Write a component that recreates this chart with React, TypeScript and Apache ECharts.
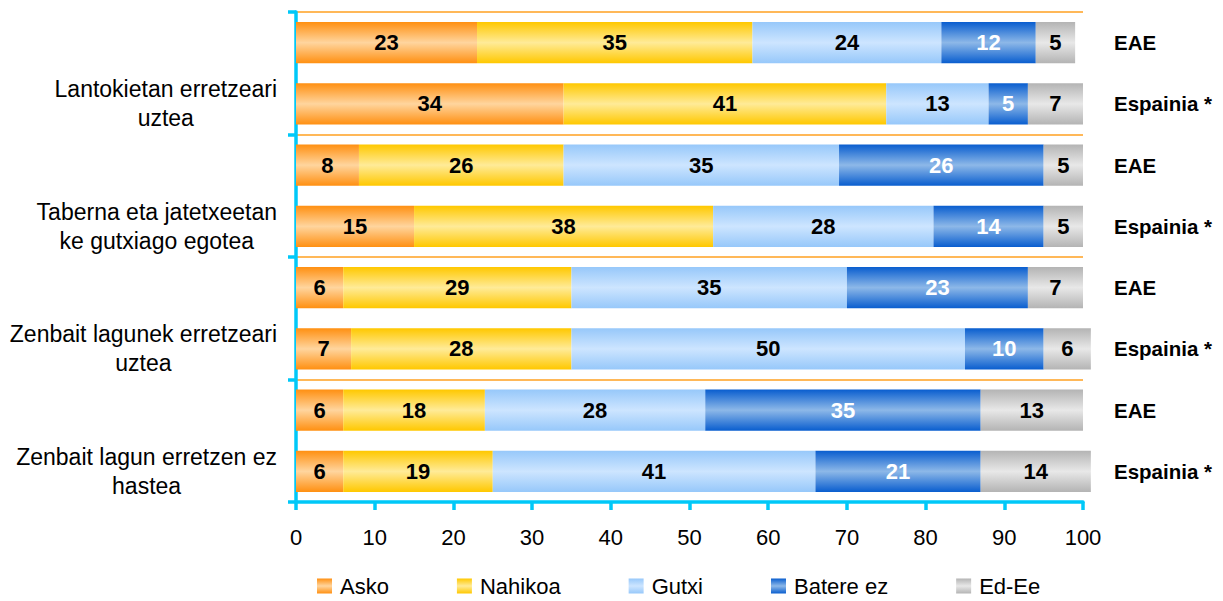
import React, { useEffect, useRef } from "react";
import * as echarts from "echarts";

const groupLabels = [
  "Lantokietan erretzeari\nuztea",
  "Taberna eta jatetxeetan\nke gutxiago egotea",
  "Zenbait lagunek erretzeari\nuztea",
  "Zenbait lagun erretzen ez\nhastea",
];
const regionLabels = ["EAE", "Espainia *"];
const xTicks = [0, 10, 20, 30, 40, 50, 60, 70, 80, 90, 100];

const seriesNames = ["Asko", "Nahikoa", "Gutxi", "Batere ez", "Ed-Ee"];
const asko = [23, 34, 8, 15, 6, 7, 6, 6];
const nahikoa = [35, 41, 26, 38, 29, 28, 18, 19];
const gutxi = [24, 13, 35, 28, 35, 50, 28, 41];
const batereEz = [12, 5, 26, 14, 23, 10, 35, 21];
const edEe = [5, 7, 5, 5, 7, 6, 13, 14];

const seriesValues = [asko, nahikoa, gutxi, batereEz, edEe];
const edgeColors = ["#FF9012", "#FFC800", "#97C8FA", "#0A5ECF", "#B4B4B4"];
const midColors = ["#FFD59E", "#FFEB98", "#CDE5FF", "#8DB8E8", "#E8E8E8"];
const labelColors = ["#000", "#000", "#000", "#fff", "#000"];

const FONT = "'Liberation Sans', Arial, sans-serif";
const CYAN = "#00C8F8";

export default function App() {
  const ref = useRef<HTMLDivElement>(null);
  useEffect(() => {
    if (!ref.current) return;
    const chart = echarts.init(ref.current, undefined, { renderer: "svg" });

    const leftData: string[] = [];
    const rightData: string[] = [];
    groupLabels.forEach((g) => {
      leftData.push("");
      leftData.push(g);
      rightData.push(regionLabels[0]);
      rightData.push(regionLabels[1]);
    });

    const series = seriesNames.map((name, i) => ({
      name,
      type: "bar",
      stack: "total",
      yAxisIndex: 0,
      barCategoryGap: "33%",
      clip: false,
      data: seriesValues[i],
      itemStyle: {
        color: new echarts.graphic.LinearGradient(0, 0, 0, 1, [
          { offset: 0, color: edgeColors[i] },
          { offset: 0.5, color: midColors[i] },
          { offset: 1, color: edgeColors[i] },
        ]),
      },
      label: {
        show: true,
        position: "inside",
        color: labelColors[i],
        fontFamily: FONT,
        fontWeight: "bold",
        fontSize: 22,
        textBorderWidth: 0,
      },
    }));

    chart.setOption({
      animation: false,
      grid: { left: 296, right: 140, top: 12, bottom: 99, containLabel: false },
      legend: {
        data: seriesNames,
        left: 312,
        top: 570,
        itemWidth: 15,
        itemHeight: 15,
        itemGap: 68,
        icon: "rect",
        textStyle: {
          fontFamily: FONT,
          fontSize: 22,
          color: "#000",
          padding: [0, 0, 0, 3],
        },
      },
      xAxis: {
        type: "value",
        min: xTicks[0],
        max: xTicks[xTicks.length - 1],
        interval: 10,
        axisLine: { show: true, lineStyle: { color: CYAN, width: 3.5 } },
        axisTick: { show: true, length: 8, lineStyle: { color: CYAN, width: 3.5 } },
        splitLine: { show: false },
        axisLabel: {
          margin: 24,
          fontFamily: FONT,
          fontSize: 22,
          color: "#000",
        },
      },
      yAxis: [
        {
          type: "category",
          inverse: true,
          data: leftData,
          position: "left",
          axisLine: { show: true, lineStyle: { color: CYAN, width: 3.5 } },
          axisTick: {
            show: true,
            length: 8,
            interval: (i: number) => i % 2 === 0,
            lineStyle: { color: CYAN, width: 3.5 },
          },
          splitLine: {
            show: true,
            interval: (i: number) => i % 2 === 0,
            lineStyle: { color: "#FFA020", width: 1.5 },
          },
          axisLabel: {
            interval: 0,
            margin: 19,
            formatter: (v: string) =>
              v ? v.split("\n").map((l) => `{a|${l}}`).join("\n") : "",
            rich: {
              a: {
                align: "center",
                fontFamily: FONT,
                fontSize: 23,
                lineHeight: 29,
                color: "#000",
              },
            },
          },
        },
        {
          type: "category",
          inverse: true,
          data: rightData,
          position: "right",
          axisLine: { show: false },
          axisTick: { show: false },
          splitLine: { show: false },
          axisLabel: {
            interval: 0,
            margin: 31,
            fontFamily: FONT,
            fontSize: 20.5,
            fontWeight: "bold",
            color: "#000",
          },
        },
      ],
      series,
    });
    return () => chart.dispose();
  }, []);

  return (
    <div
      ref={ref}
      style={{ position: "fixed", left: 0, top: 0, width: 1223, height: 601, background: "#fff" }}
    />
  );
}
